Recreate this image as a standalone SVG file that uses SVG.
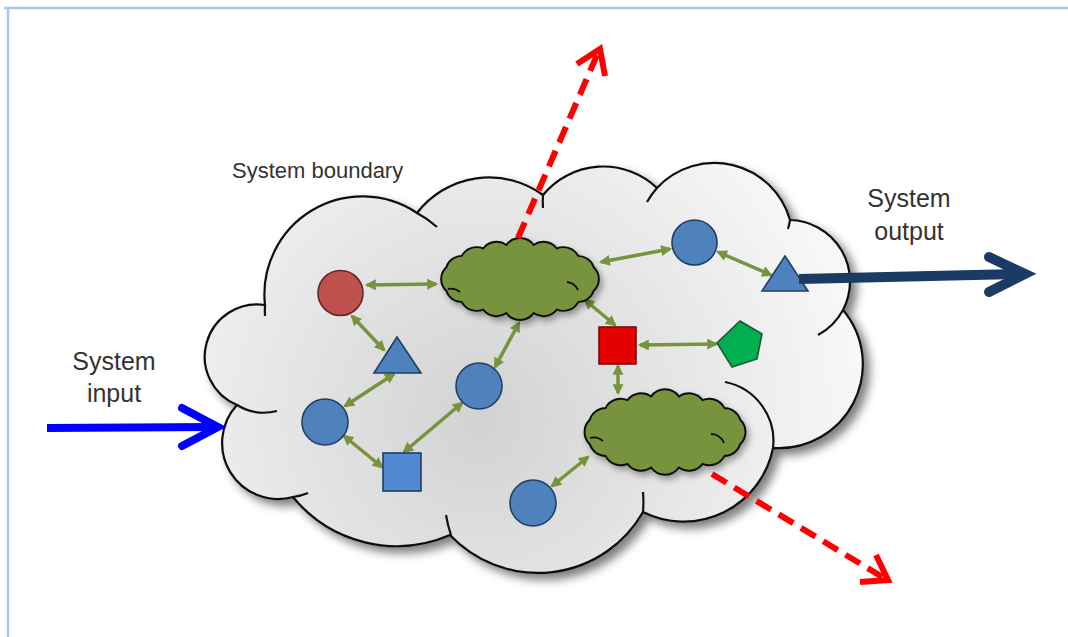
<svg xmlns="http://www.w3.org/2000/svg" width="1068" height="637" viewBox="0 0 1068 637">
<defs>
<style>
.lbl{font-family:"Liberation Sans",Arial,sans-serif;fill:#333333}
.cn{stroke:#77933c;stroke-width:3.5;fill:none;marker-start:url(#ah);marker-end:url(#ah)}
.tail{fill:none;stroke:#111;stroke-width:2.2}
.gtail{fill:none;stroke:#111;stroke-width:1.8}
.blue{fill:#4f81bd;stroke:#1f3f66;stroke-width:1.6}
.dash{stroke:#ff0000;stroke-width:6;fill:none;stroke-dasharray:17 9}
.head{stroke-width:6;fill:none;stroke-linecap:butt;stroke-linejoin:miter}
</style>
<radialGradient id="cg" gradientUnits="userSpaceOnUse" cx="480" cy="420" r="420">
<stop offset="0" stop-color="#d2d2d2"/>
<stop offset="1" stop-color="#fbfbfb"/>
</radialGradient>
<filter id="sh" x="-10%" y="-10%" width="125%" height="125%">
<feDropShadow dx="6" dy="6" stdDeviation="5" flood-color="#000" flood-opacity="0.5"/>
</filter>
<filter id="sh2" x="-10%" y="-15%" width="125%" height="135%">
<feDropShadow dx="3" dy="4" stdDeviation="3" flood-color="#000" flood-opacity="0.35"/>
</filter>
<marker id="ah" viewBox="0 0 10 10" refX="8" refY="5" markerWidth="12" markerHeight="11" markerUnits="userSpaceOnUse" orient="auto-start-reverse">
<path d="M0,0 L10,5 L0,10 Z" fill="#77933c"/>
</marker>
<path id="gc" d="M75.2,-12.3 A17,17 0 0 1 75.2,12.3 A17,17 0 0 1 59.4,24.1 A17,17 0 0 1 37.6,31.8 A17,17 0 0 1 13.9,35.5 A17,17 0 0 1 -13.9,35.5 A17,17 0 0 1 -37.6,31.8 A17,17 0 0 1 -59.4,24.1 A17,17 0 0 1 -75.2,12.3 A17,17 0 0 1 -75.2,-12.3 A17,17 0 0 1 -59.4,-24.1 A17,17 0 0 1 -37.6,-31.8 A17,17 0 0 1 -13.9,-35.5 A17,17 0 0 1 13.9,-35.5 A17,17 0 0 1 37.6,-31.8 A17,17 0 0 1 59.4,-24.1 A17,17 0 0 1 75.2,-12.3 Z" fill="#77933c" stroke="#111" stroke-width="2"/>
</defs>

<rect x="0" y="0" width="1068" height="637" fill="#ffffff"/>
<g id="frame" stroke="#a6c6ec" stroke-width="2.5" fill="none">
<line x1="4" y1="8" x2="1068" y2="8"/>
<line x1="8" y1="8" x2="8" y2="637"/>
</g>

<g id="system-boundary">
<path filter="url(#sh)" fill="url(#cg)" stroke="#111" stroke-width="2.2" d="M265,305 A98,98 0 0 1 417,213 A91,91 0 0 1 543,195 A78,78 0 0 1 657,188 A78.5,78.5 0 0 1 790,220 A61.5,61.5 0 0 1 843,310 A84,84 0 0 1 773,448 A91,91 0 0 1 643,512 A121,121 0 0 1 450,535 A134,134 0 0 1 293,497 A56,56 0 0 1 237,405 A52.3,52.3 0 0 1 265,305 Z"/>
<path class="tail" d="M277,411 A52,52 0 0 1 237,405"/>
<path class="tail" d="M308,493 A56,56 0 0 1 293,497"/>
<path class="tail" d="M451,535 A121,121 0 0 1 446,515"/>
<path class="tail" d="M643,492 A121,121 0 0 1 643,512"/>
<path class="tail" d="M725,382 A60,60 0 0 1 773,448"/>
<path class="tail" d="M843,310 A61.5,61.5 0 0 1 818,335"/>
<path class="tail" d="M790,220 A78.5,78.5 0 0 1 788,229"/>
<path class="tail" d="M647,202 A78.5,78.5 0 0 1 657,188"/>
<path class="tail" d="M543,208 A77,77 0 0 1 543,195"/>
<path class="tail" d="M417,213 A98,98 0 0 1 437,227"/>
<path class="tail" d="M265,316 A98,98 0 0 1 265,305"/>
<text class="lbl" x="232" y="178" font-size="22">System boundary</text>
</g>

<g id="connectors">
<line class="cn" x1="367" y1="285" x2="436" y2="284"/>
<line class="cn" x1="352" y1="316" x2="384" y2="350"/>
<line class="cn" x1="394" y1="374" x2="345" y2="406"/>
<line class="cn" x1="344" y1="436" x2="382" y2="467"/>
<line class="cn" x1="404" y1="452" x2="462" y2="403"/>
<line class="cn" x1="495" y1="367" x2="519" y2="323"/>
<line class="cn" x1="585" y1="300" x2="615" y2="325"/>
<line class="cn" x1="601" y1="262" x2="670" y2="249"/>
<line class="cn" x1="718" y1="252" x2="771" y2="275"/>
<line class="cn" x1="640" y1="345" x2="716" y2="344"/>
<line class="cn" x1="618" y1="366" x2="618" y2="393"/>
<line class="cn" x1="588" y1="457" x2="552" y2="486"/>
</g>

<g id="green-cloud-1" filter="url(#sh2)">
<use href="#gc" transform="translate(520,279) scale(0.98,0.96)"/>
<path class="gtail" d="M448,289 A14,14 0 0 1 460,292"/>
<path class="gtail" d="M567,282 A14,14 0 0 1 578,290"/>
</g>
<g id="green-cloud-2" filter="url(#sh2)">
<use href="#gc" transform="translate(665,432)"/>
<path class="gtail" d="M711,434 A14,14 0 0 1 724,443"/>
<path class="gtail" d="M590,438 A14,14 0 0 1 603,441"/>
</g>

<g id="red-circle"><circle cx="340.5" cy="293" r="22.5" fill="#c0504d" stroke="#5e2826" stroke-width="1.6"/></g>
<g id="blue-triangle-left"><polygon class="blue" points="397,337 374,373 421,373"/></g>
<g id="blue-circle-left"><circle class="blue" cx="325" cy="422" r="23"/></g>
<g id="blue-square"><rect x="383" y="453" width="38" height="38" fill="#5389d1" stroke="#1f3f66" stroke-width="1.6"/></g>
<g id="blue-circle-center"><circle class="blue" cx="479" cy="386" r="23"/></g>
<g id="red-square"><rect x="599" y="327" width="37" height="37" fill="#e50000" stroke="#6e1010" stroke-width="1.6"/></g>
<g id="green-pentagon"><polygon points="740,321 762,334 757,359 732,367 717,343" fill="#00b050" stroke="#1d5a30" stroke-width="1.6"/></g>
<g id="blue-circle-top"><circle class="blue" cx="694.5" cy="242.5" r="22.5"/></g>
<g id="blue-circle-bottom"><circle class="blue" cx="533" cy="503" r="23"/></g>
<g id="blue-triangle-right"><polygon class="blue" points="785,256 762,291 808,291"/></g>

<g id="system-input">
<text class="lbl" x="114" y="370" font-size="25" text-anchor="middle">System</text>
<text class="lbl" x="114" y="402" font-size="25" text-anchor="middle">input</text>
<line x1="47" y1="428" x2="214" y2="427" stroke="#0000ff" stroke-width="8"/>
<polyline points="182,408 218,427 182,446" fill="none" stroke="#0000ff" stroke-width="8" stroke-linecap="round" stroke-linejoin="miter"/>
</g>

<g id="system-output">
<text class="lbl" x="909" y="207" font-size="25" text-anchor="middle">System</text>
<text class="lbl" x="909" y="240" font-size="25" text-anchor="middle">output</text>
<line x1="799" y1="279" x2="1020" y2="274" stroke="#1b3a64" stroke-width="10"/>
<polyline points="989,257 1025,274 989,292" fill="none" stroke="#1b3a64" stroke-width="10" stroke-linecap="round" stroke-linejoin="miter"/>
</g>

<g id="leak-top">
<line class="dash" x1="518" y1="238" x2="597" y2="55"/>
<polyline class="head" stroke="#ff0000" points="577,64 600,49 605,76"/>
</g>
<g id="leak-bottom">
<line class="dash" x1="712" y1="474" x2="884" y2="578"/>
<polyline class="head" stroke="#ff0000" points="860,582 888,580 876,555"/>
</g>
</svg>
